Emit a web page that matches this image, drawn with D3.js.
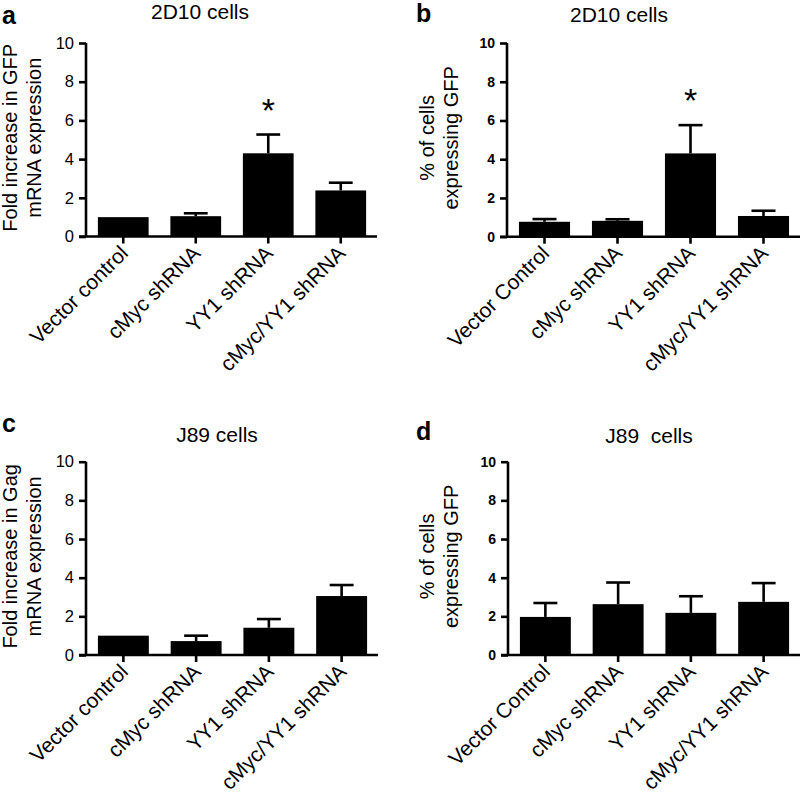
<!DOCTYPE html>
<html><head><meta charset="utf-8">
<script src="https://cdn.jsdelivr.net/npm/d3@7"></script>
<style>
body{margin:0;background:#fff}
text{font-family:"Liberation Sans",Arial,Helvetica,sans-serif;fill:#000}
</style>
</head><body>
<svg id="chart" width="800" height="797"></svg>
<script>
// ---------- data ----------
const categoriesLowerCase = ["Vector control", "cMyc shRNA", "YY1 shRNA", "cMyc/YY1 shRNA"];
const categoriesUpperCase = ["Vector Control", "cMyc shRNA", "YY1 shRNA", "cMyc/YY1 shRNA"];
const yTickValues = [0, 2, 4, 6, 8, 10];

const meansA = [1.0, 1.05, 4.3, 2.38];
const errorsA = [0, 0.15, 0.97, 0.40];
const starsA = [false, false, true, false];

const meansB = [0.77, 0.82, 4.3, 1.07];
const errorsB = [0.14, 0.08, 1.46, 0.27];
const starsB = [false, false, true, false];

const meansC = [1.0, 0.72, 1.41, 3.05];
const errorsC = [0, 0.28, 0.45, 0.57];
const starsC = [false, false, false, false];

const meansD = [1.97, 2.63, 2.18, 2.75];
const errorsD = [0.72, 1.12, 0.86, 0.97];
const starsD = [false, false, false, false];

const panelLetters = ["a", "b", "c", "d"];
const panelTitles = ["2D10 cells", "2D10 cells", "J89 cells", "J89  cells"];
const yAxisTitles = [
  ["Fold increase in GFP", "mRNA expression"],
  ["% of cells", "expressing GFP"],
  ["Fold increase in Gag", "mRNA expression"],
  ["% of cells", "expressing GFP"]
];

// ---------- layout ----------
const panels = [
  {cats: categoriesLowerCase, means: meansA, errs: errorsA, stars: starsA,
   axisX: 86, xEnd: 377, yTop: 43, yBase: 236.5, tickFont: 16.5, tickBold: false,
   letter: [2, 24], title: [200, 19], yl: [17, 41]},
  {cats: categoriesUpperCase, means: meansB, errs: errorsB, stars: starsB,
   axisX: 507, xEnd: 800, yTop: 43, yBase: 236.7, tickFont: 14, tickBold: true,
   letter: [416, 22], title: [619, 22], yl: [434, 458]},
  {cats: categoriesLowerCase, means: meansC, errs: errorsC, stars: starsC,
   axisX: 86, xEnd: 378, yTop: 461.7, yBase: 655, tickFont: 16.5, tickBold: false,
   letter: [2, 432], title: [217, 442], yl: [17, 41]},
  {cats: categoriesUpperCase, means: meansD, errs: errorsD, stars: starsD,
   axisX: 508, xEnd: 800, yTop: 461.7, yBase: 655, tickFont: 14, tickBold: true,
   letter: [416, 440], title: [649, 443], yl: [434, 458]}
];

const svg = d3.select("#chart");
const SW = 2.6;

panels.forEach((p, i) => {
  const g = svg.append("g");
  const x = d3.scaleBand().domain(p.cats).range([p.axisX + 1, p.xEnd])
    .paddingInner(0.3).paddingOuter(0.15);
  const y = d3.scaleLinear().domain([0, 10]).range([p.yBase, p.yTop]);

  // bars
  g.selectAll("rect.bar").data(p.cats).join("rect")
    .attr("class", "bar")
    .attr("x", d => x(d))
    .attr("width", x.bandwidth())
    .attr("y", (d, k) => y(p.means[k]))
    .attr("height", (d, k) => y(0) - y(p.means[k]))
    .attr("fill", "#000");

  // error bars (upper only)
  const capW = x.bandwidth() * 0.47;
  p.cats.forEach((c, k) => {
    if (p.errs[k] <= 0) return;
    const cx = x(c) + x.bandwidth() / 2;
    g.append("line").attr("x1", cx).attr("x2", cx)
      .attr("y1", y(p.means[k])).attr("y2", y(p.means[k] + p.errs[k]))
      .attr("stroke", "#000").attr("stroke-width", SW);
    g.append("line").attr("x1", cx - capW / 2).attr("x2", cx + capW / 2)
      .attr("y1", y(p.means[k] + p.errs[k])).attr("y2", y(p.means[k] + p.errs[k]))
      .attr("stroke", "#000").attr("stroke-width", SW);
    if (p.stars[k]) {
      g.append("text").attr("x", cx).attr("y", y(p.means[k] + p.errs[k]) - 13)
        .attr("text-anchor", "middle").attr("font-size", 34).text("*");
    }
  });

  // y axis
  const yAxis = d3.axisLeft(y).tickValues(yTickValues).tickSize(7).tickSizeOuter(0).tickPadding(5);
  const ya = g.append("g").attr("transform", `translate(${p.axisX},0)`).call(yAxis);
  ya.select(".domain").attr("stroke-width", SW).attr("d", `M0,${p.yBase}V${p.yTop}`);
  ya.selectAll(".tick line").attr("stroke-width", SW);
  ya.selectAll(".tick text").attr("font-size", p.tickFont)
    .attr("font-weight", p.tickBold ? "bold" : "normal")
    .style("font-family", '"Liberation Sans",Arial,sans-serif');

  // x axis baseline + ticks
  const xAxis = d3.axisBottom(x).tickSize(7).tickSizeOuter(0).tickFormat("");
  const xa = g.append("g").attr("transform", `translate(0,${p.yBase})`).call(xAxis);
  xa.select(".domain").remove();
  xa.selectAll(".tick line").attr("stroke-width", SW);
  g.append("line").attr("x1", p.axisX - 7).attr("x2", p.xEnd)
    .attr("y1", p.yBase).attr("y2", p.yBase)
    .attr("stroke", "#000").attr("stroke-width", SW);

  // x category labels, rotated
  g.selectAll("text.xlab").data(p.cats).join("text")
    .attr("class", "xlab")
    .attr("text-anchor", "end")
    .attr("font-size", 21)
    .attr("transform", d => `translate(${x(d) + x.bandwidth() / 2 + 6},${p.yBase + 18}) rotate(-45)`)
    .text(d => d);

  // y axis title (two lines)
  const ymid = (p.yBase + p.yTop) / 2 - 2;
  yAxisTitles[i].forEach((line, j) => {
    g.append("text").attr("text-anchor", "middle").attr("font-size", 20)
      .attr("transform", `translate(${p.yl[j]},${ymid}) rotate(-90)`)
      .text(line);
  });

  // panel title
  g.append("text").attr("x", p.title[0]).attr("y", p.title[1])
    .attr("text-anchor", "middle").attr("font-size", 21)
    .style("white-space", "pre").text(panelTitles[i]);

  // panel letter
  g.append("text").attr("x", p.letter[0]).attr("y", p.letter[1])
    .attr("font-size", 25).attr("font-weight", "bold").text(panelLetters[i]);
});
</script>
</body></html>
